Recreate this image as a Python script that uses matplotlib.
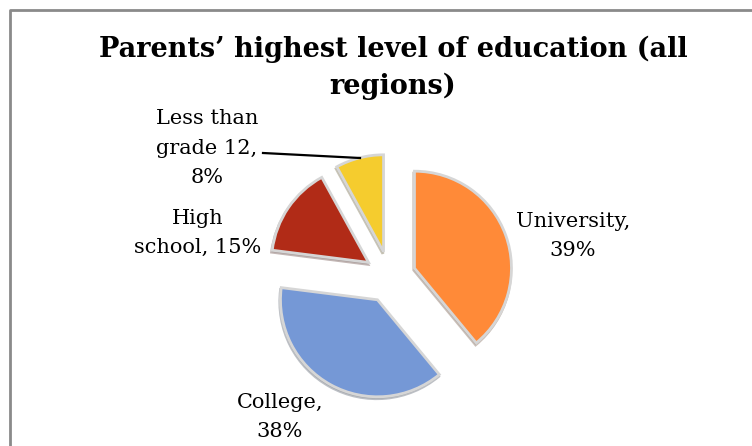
import matplotlib.pyplot as plt
from matplotlib.lines import Line2D

categories = ['University', 'College', 'High school', 'Less than grade 12']
shares = [39, 38, 15, 8]
colors = ['#FF8A38', '#7598D6', '#B12B17', '#F5CC2E']
label_text = ['University,\n39%', 'College,\n38%', 'High\nschool, 15%', 'Less than\ngrade 12,\n8%']

W, H = 752, 446
plt.rcParams['font.family'] = ['DejaVu Serif']

fig = plt.figure(figsize=(W / 100, H / 100), dpi=100)
ax = fig.add_axes([0, 0, 1, 1])

# pixel-like data units, y pointing up
cx, cy, r = 390, H - 277, 97
ax.pie(shares, colors=colors, startangle=90, counterclock=False,
       center=(cx, cy), radius=r, explode=[26] * len(shares),
       wedgeprops=dict(edgecolor='#d6d6d6', linewidth=2),
       shadow=dict(ox=-0.5, oy=-1.4, facecolor='#909090', alpha=0.3))
ax.set_xlim(0, W)
ax.set_ylim(0, H)
ax.set_aspect('equal')
ax.axis('off')

# slice labels
lab_pos = [(573, 236), (280, 417), (198, 233), (207, 148)]
for txt, (x, y) in zip(label_text, lab_pos):
    ax.text(x, H - y, txt, ha='center', va='center', fontsize=15,
            linespacing=1.7)
ax.plot([263, 360], [H - 153, H - 158], color='black', lw=1.6)

fig.text(393 / W, 1 - 68 / H, 'Parents’ highest level of education (all\nregions)',
         ha='center', va='center', fontsize=19.5, fontweight='bold',
         linespacing=1.45)

# chart area border (runs off the right and bottom)
fig.add_artist(Line2D([9.5 / W, 9.5 / W, 1], [0, 1 - 9.5 / H, 1 - 9.5 / H],
                      transform=fig.transFigure, color='#8a8a8a', lw=2))

fig.savefig('out.png', dpi=100)
